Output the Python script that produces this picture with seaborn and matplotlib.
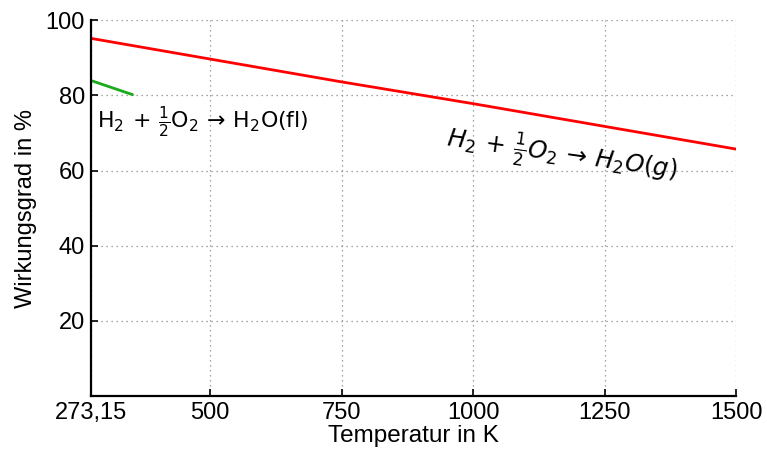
import matplotlib
matplotlib.use("Agg")
import pandas as pd
import seaborn as sns
from matplotlib import pyplot as plt

# Wirkungsgrad der Brennstoffzelle ueber der Temperatur
temp_gas = [273.15, 750, 1000, 1500]
eta_gas = [95.2, 83.6, 77.8, 65.7]
temp_liquid = [273.15, 353]
eta_liquid = [84.0, 80.2]

x_ticks = [273.15, 500, 750, 1000, 1250, 1500]
x_tick_labels = ["273,15", "500", "750", "1000", "1250", "1500"]
y_ticks = [20, 40, 60, 80, 100]

sns.set_style("white")
plt.rcParams["font.family"] = ["Liberation Sans", "DejaVu Sans"]
plt.rcParams["mathtext.fontset"] = "dejavusans"
plt.rcParams["text.color"] = "black"
plt.rcParams["axes.labelcolor"] = "black"
plt.rcParams["xtick.color"] = "black"
plt.rcParams["ytick.color"] = "black"

gas = pd.DataFrame({"T": temp_gas, "eta": eta_gas})
liquid = pd.DataFrame({"T": temp_liquid, "eta": eta_liquid})

fig, ax = plt.subplots(figsize=(7.67, 4.5), dpi=100)
sns.lineplot(data=gas, x="T", y="eta", color="#ff0000", linewidth=2, ax=ax)
sns.lineplot(data=liquid, x="T", y="eta", color="#1aaa1a", linewidth=2, ax=ax)

ax.set_xlim(273.15, 1500)
ax.set_ylim(0, 100)
ax.set_xticks(x_ticks)
ax.set_xticklabels(x_tick_labels)
ax.set_yticks(y_ticks)
ax.tick_params(bottom=True, left=True, direction="in", length=5, width=1.2,
               labelsize=17, pad=4)
ax.grid(True, linestyle=(0, (1, 3)), color="#888888", linewidth=0.9)
for side in ["top", "right"]:
    ax.spines[side].set_visible(False)
for side in ["left", "bottom"]:
    ax.spines[side].set_linewidth(1.6)
    ax.spines[side].set_color("black")

ax.set_xlabel("Temperatur in K", fontsize=17.5, labelpad=1)
ax.set_ylabel("Wirkungsgrad in %", fontsize=17, labelpad=6)

ax.text(285, 73, r"$\mathrm{H_2\,+\,\frac{1}{2}O_2\,\rightarrow\,H_2O(fl)}$",
        fontsize=15.8, ha="left", va="center")
ax.text(1169, 64, r"$H_2\,+\,\frac{1}{2}O_2\,\rightarrow\,H_2O(g)$",
        fontsize=17.5, ha="center", va="center", rotation=-8)

fig.subplots_adjust(left=0.118, right=0.96, top=0.955, bottom=0.12)
fig.savefig("out.png", dpi=100)
